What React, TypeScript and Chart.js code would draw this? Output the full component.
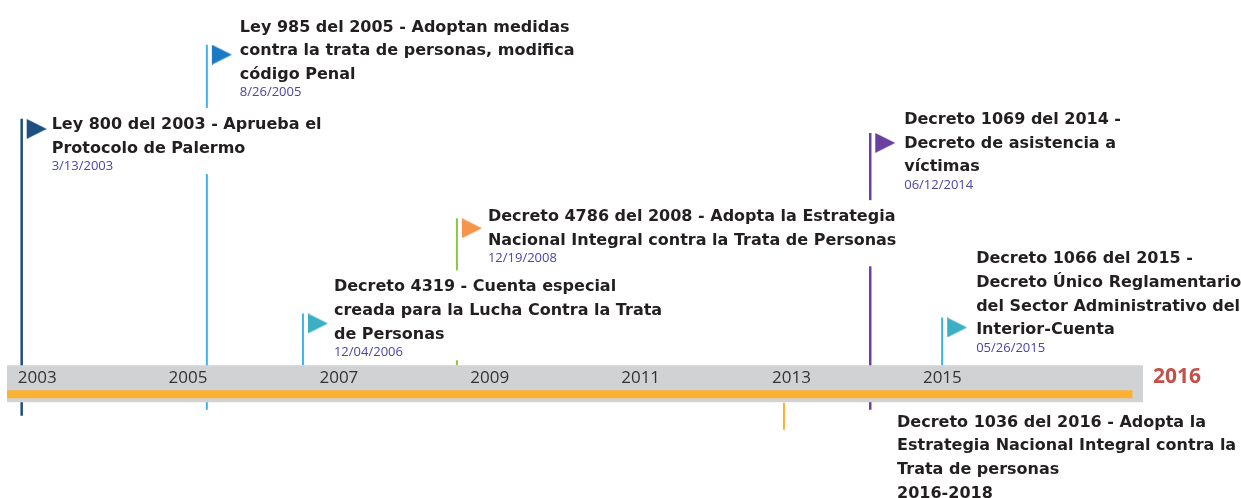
import React, { useEffect, useRef } from "react";
import { Chart, registerables } from "chart.js";

Chart.register(...registerables);

// ---------- data ----------
const eventDates = ["3/13/2003", "8/26/2005", "12/04/2006", "12/19/2008", "06/12/2014", "05/26/2015"];
const eventTitles: string[][] = [
  ["Ley 800 del 2003 - Aprueba el", "Protocolo de Palermo"],
  ["Ley 985 del 2005 - Adoptan medidas", "contra la trata de personas, modifica", "código Penal"],
  ["Decreto 4319 - Cuenta especial", "creada para la Lucha Contra la Trata", "de Personas"],
  ["Decreto 4786 del 2008 - Adopta la Estrategia", "Nacional Integral contra la Trata de Personas"],
  ["Decreto 1069 del 2014 -", "Decreto de asistencia a", "víctimas"],
  ["Decreto 1066 del 2015 -", "Decreto Único Reglamentario", "del Sector Administrativo del", "Interior-Cuenta"],
];
const tickYears = [2003, 2005, 2007, 2009, 2011, 2013, 2015];
const axisStart = 2003;
const axisEnd = 2018.06;
const progressEnd = 2017.92;
const endLabel = "2016";
const markerYear = 2013.3;
const noteYear = 2014.8;
const noteLines = [
  "Decreto 1036 del 2016 - Adopta la",
  "Estrategia Nacional Integral contra la",
  "Trata de personas",
  "2016-2018",
];

// ---------- layout (heights above the timeline centre, in px) ----------
const stemTop = [264, 338, 70, 165, 250, 66];
const stemBottom = [-32, -26, 18, 18, -26, 18];
const textLevel = [254, 351, 92, 162, 259, 120];
const textShift = [30, 33, 31, 31, 34, 34];
const markerRange = [-19, -46];
const noteLevel = -43;

// ---------- styles ----------
const stemColors = ["#1f4e7a", "#3cb4e5", "#3cb4e5", "#8dc63f", "#6b3fa0", "#3cb4e5"];
const stemWidths = [2.5, 2, 2, 2, 2.5, 2];
const flagColors = ["#1d4f80", "#1b7ac4", "#3dafc4", "#f7944b", "#6b3fa0", "#3dafc4"];
const TITLE_FONT = "bold 16px 'DejaVu Sans'";
const DATE_FONT = "13px 'Open Sans'";
const TITLE_COLOR = "#231f20";
const DATE_COLOR = "#4646a6";
const LINE = 23.7;
const DATE_GAP = 17.5;
const LABEL_SHIFT = 0.4;

function toYear(s: string): number {
  const [m, d, y] = s.split("/").map(Number);
  const start = Date.UTC(y, 0, 1);
  const end = Date.UTC(y + 1, 0, 1);
  return y + (Date.UTC(y, m - 1, d) - start) / (end - start);
}
const eventX = eventDates.map(toYear);

function makeFlag(color: string): HTMLCanvasElement {
  const c = document.createElement("canvas");
  c.width = 50;
  c.height = 20;
  const g = c.getContext("2d")!;
  g.fillStyle = color;
  g.beginPath();
  g.moveTo(30, 0);
  g.lineTo(50, 10);
  g.lineTo(30, 20);
  g.closePath();
  g.fill();
  return c;
}

const annotatePlugin = {
  id: "annotate",
  afterDatasetsDraw(chart: any) {
    const ctx: CanvasRenderingContext2D = chart.ctx;
    const xs = chart.scales.x;
    const ys = chart.scales.y;
    ctx.save();
    ctx.textAlign = "left";
    ctx.textBaseline = "alphabetic";
    eventTitles.forEach((lines, i) => {
      const x0 = xs.getPixelForValue(eventX[i]) + textShift[i];
      const b0 = ys.getPixelForValue(textLevel[i]);
      ctx.font = TITLE_FONT;
      const w = Math.max(...lines.map((l) => ctx.measureText(l).width));
      const dateY = b0 + (lines.length - 1) * LINE + DATE_GAP;
      ctx.fillStyle = "#ffffff";
      ctx.fillRect(x0 - 4, b0 - 21, w + 8, dateY + 4 - (b0 - 21));
      ctx.fillStyle = TITLE_COLOR;
      lines.forEach((l, j) => ctx.fillText(l, x0, b0 + j * LINE));
      ctx.font = DATE_FONT;
      ctx.fillStyle = DATE_COLOR;
      ctx.fillText(eventDates[i], x0, dateY);
    });
    const nx = xs.getPixelForValue(noteYear);
    const nb = ys.getPixelForValue(noteLevel);
    ctx.font = TITLE_FONT;
    ctx.fillStyle = TITLE_COLOR;
    noteLines.forEach((l, j) => ctx.fillText(l, nx, nb + j * LINE));
    ctx.restore();
  },
  afterDraw(chart: any) {
    const ctx: CanvasRenderingContext2D = chart.ctx;
    const xs = chart.scales.x;
    const ys = chart.scales.y;
    ctx.save();
    ctx.font = "bold 21px 'Open Sans'";
    ctx.fillStyle = "#c5504a";
    ctx.textAlign = "left";
    ctx.textBaseline = "middle";
    ctx.fillText(endLabel, xs.right + 10, ys.getPixelForValue(6.5));
    ctx.restore();
  },
};

export default function App() {
  const ref = useRef<HTMLCanvasElement | null>(null);
  useEffect(() => {
    if (!ref.current) return;
    const flags = flagColors.map(makeFlag);
    const stemSets = eventX.map((x, i) => ({
      type: "line" as const,
      data: [
        { x, y: stemTop[i] },
        { x, y: stemBottom[i] },
      ],
      borderColor: stemColors[i],
      borderWidth: stemWidths[i],
      pointRadius: 0,
      clip: false as any,
      order: 3,
    }));
    const chart = new Chart(ref.current, {
      type: "line",
      data: {
        datasets: [
          ...stemSets,
          {
            type: "line",
            data: [
              { x: markerYear, y: markerRange[0] },
              { x: markerYear, y: markerRange[1] },
            ],
            borderColor: "#fbb131",
            borderWidth: 2,
            pointRadius: 0,
            clip: false as any,
            order: 3,
          },
          {
            type: "scatter",
            data: eventX.map((x, i) => ({ x, y: stemTop[i] - 10 })),
            pointStyle: flags as any,
            pointRadius: 10,
            showLine: false,
            clip: false as any,
            order: 2,
          },
          {
            type: "line",
            data: [
              { x: axisStart, y: 0 },
              { x: axisEnd, y: 0 },
            ],
            borderColor: "#d1d2d4",
            borderWidth: 37,
            borderCapStyle: "butt",
            pointRadius: 0,
            clip: false as any,
            order: 1,
          },
          {
            type: "line",
            data: [
              { x: axisStart, y: -10.5 },
              { x: progressEnd, y: -10.5 },
            ],
            borderColor: "#fbb131",
            borderWidth: 8,
            borderCapStyle: "butt",
            pointRadius: 0,
            clip: false as any,
            order: 0,
          },
        ] as any,
      },
      options: {
        responsive: false,
        animation: false,
        events: [],
        layout: { autoPadding: false, padding: { left: 7, right: 98, top: 0, bottom: 107 } },
        plugins: { legend: { display: false }, tooltip: { enabled: false } },
        scales: {
          x: {
            type: "linear",
            min: axisStart,
            max: axisEnd,
            grid: { display: false, drawTicks: false },
            border: { display: false },
            afterBuildTicks: (scale: any) => {
              scale.ticks = tickYears.map((v) => ({ value: v + LABEL_SHIFT }));
            },
            ticks: {
              z: 1,
              autoSkip: false,
              maxRotation: 0,
              padding: 3,
              color: "#333333",
              font: { family: "'Open Sans'", size: 17 },
              callback: (v: any) => String(Math.floor(Number(v))),
            },
          },
          y: {
            type: "linear",
            display: false,
            min: 19,
            max: 382.5,
          },
        },
      },
      plugins: [annotatePlugin],
    });
    return () => chart.destroy();
  }, []);
  return (
    <div style={{ position: "fixed", left: 0, top: 0, width: 1241, height: 498, background: "#fff" }}>
      <canvas ref={ref} width={1241} height={498} style={{ display: "block" }} />
    </div>
  );
}
